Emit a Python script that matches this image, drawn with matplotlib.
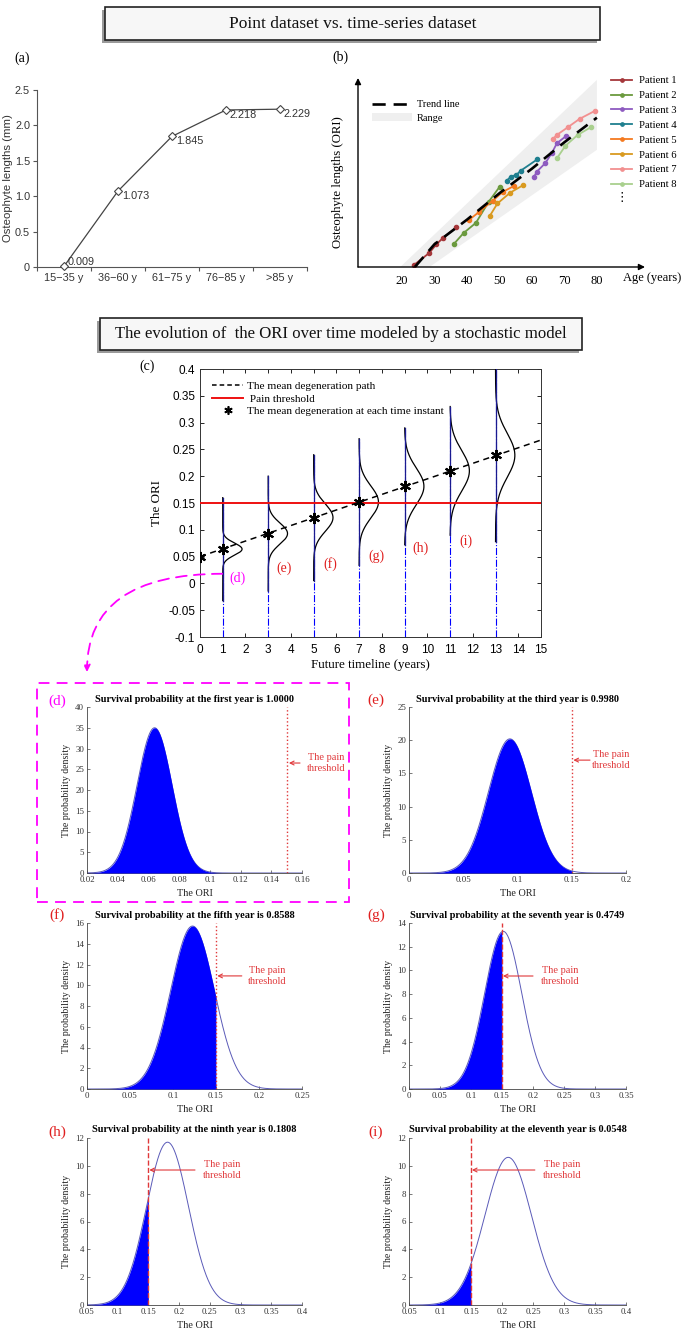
import numpy as np
import matplotlib
matplotlib.use('Agg')
import matplotlib.pyplot as plt
from matplotlib.patches import Rectangle, Patch
from matplotlib.lines import Line2D
from matplotlib.ticker import FuncFormatter

W, H = 685, 1334
SERIF = ['Liberation Serif', 'DejaVu Serif']
SANS = ['Liberation Sans', 'DejaVu Sans']

# ---------------- data ----------------
# (a) point dataset
age_groups = ['15\u221235 y', '36\u221260 y', '61\u221275 y', '76\u221285 y', '>85 y']
osteo_mm = [0.009, 1.073, 1.845, 2.218, 2.229]

# (b) time-series dataset (ORI in arbitrary units)
trend_age = [24, 30, 40, 50, 60, 70, 80]
trend_ori = [0.0, 0.12, 0.25, 0.39, 0.52, 0.66, 0.79]
range_age = [19.5, 80, 80, 28.5]
range_ori = [0.0, 0.99, 0.62, 0.0]
patient_names = ['Patient 1', 'Patient 2', 'Patient 3', 'Patient 4',
                 'Patient 5', 'Patient 6', 'Patient 7', 'Patient 8']
patient_colors = ['#A5373A', '#6B9A3E', '#8E5BC0', '#1F7F8F',
                  '#F47A20', '#D99A20', '#F29090', '#A9D08E']
patient_age = [
    [23.6, 28.4, 30.6, 32.8, 36.7],
    [35.9, 39.0, 42.8, 46.7, 50.1],
    [60.7, 61.5, 64.1, 66.2, 67.7, 70.6],
    [52.3, 53.5, 55.2, 56.6, 61.7],
    [40.8, 43.8, 47.9, 51.1, 54.4],
    [47.0, 49.4, 53.3, 57.4],
    [66.4, 67.7, 71.1, 74.7, 79.5],
    [67.7, 70.3, 74.1, 78.2],
]
patient_ori = [
    [0.009, 0.074, 0.12, 0.156, 0.209],
    [0.12, 0.18, 0.234, 0.345, 0.425],
    [0.478, 0.504, 0.549, 0.605, 0.655, 0.694],
    [0.457, 0.478, 0.487, 0.51, 0.57],
    [0.251, 0.292, 0.35, 0.398, 0.428],
    [0.269, 0.336, 0.393, 0.434],
    [0.676, 0.699, 0.74, 0.784, 0.827],
    [0.575, 0.641, 0.699, 0.74],
]

# (c) stochastic model
path_t = [0, 15]
path_ori = [0.05, 0.2675]
star_t = [0, 1, 3, 5, 7, 9, 11, 13]
star_ori = [0.05, 0.064, 0.093, 0.1227, 0.1519, 0.1811, 0.210, 0.239]
inst_t = [1, 3, 5, 7, 9, 11, 13]
inst_mean = [0.064, 0.093, 0.1227, 0.1519, 0.1811, 0.210, 0.239]
inst_sd = [0.0114, 0.01975, 0.0254, 0.030, 0.0341, 0.0376, 0.041]
inst_top = [0.16, 0.20, 0.24, 0.27, 0.29, 0.33, 0.40]
threshold = 0.15
inst_labels = ['(d)', '(e)', '(f)', '(g)', '(h)', '(i)']
inst_label_t = [1.67, 3.7, 5.73, 7.74, 9.7, 11.7]
inst_label_y = [0.009, 0.028, 0.037, 0.05, 0.066, 0.079]

# (d)-(i) survival panels
ordinals = ['first', 'third', 'fifth', 'seventh', 'ninth', 'eleventh']
survival = ['1.0000', '0.9980', '0.8588', '0.4749', '0.1808', '0.0548']
panel_xlim = [(0.02, 0.16), (0, 0.2), (0, 0.25), (0, 0.35), (0.05, 0.4), (0.05, 0.4)]
panel_xstep = [0.02, 0.05, 0.05, 0.05, 0.05, 0.05]
panel_ylim = [40, 25, 16, 14, 12, 12]
panel_ystep = [5, 5, 2, 2, 2, 2]

# ---------------- figure ----------------
fig = plt.figure(figsize=(W / 100, H / 100), dpi=100)
fig.patch.set_facecolor('white')


def px_axes(x0, y0, x1, y1):
    return fig.add_axes([x0 / W, 1 - y1 / H, (x1 - x0) / W, (y1 - y0) / H])


def fxy(x, y):
    return x / W, 1 - y / H


def title_box(x0, y0, x1, y1, text, size):
    sh = Rectangle(fxy(x0 - 3, y1 + 3), (x1 - x0) / W, (y1 - y0) / H,
                   transform=fig.transFigure, facecolor='#9a9a9a', edgecolor='none', zorder=1)
    fig.patches.append(sh)
    bx = Rectangle(fxy(x0, y1), (x1 - x0) / W, (y1 - y0) / H,
                   transform=fig.transFigure, facecolor='#f7f7f7', edgecolor='#222222',
                   lw=1.2, zorder=2)
    fig.patches.append(bx)
    fig.text(*fxy((x0 + x1) / 2, (y0 + y1) / 2), text, ha='center', va='center',
             family=SERIF, fontsize=size, zorder=3, color='#111111')


title_box(105, 7, 600, 40, 'Point dataset vs. time-series dataset', 12.5)
title_box(100, 318, 582, 350, 'The evolution of  the ORI over time modeled by a stochastic model', 12.1)

# ---------------- (a) ----------------
axa = px_axes(37, 90, 307, 267)
xa = np.arange(len(age_groups)) + 0.5
axa.plot(xa, osteo_mm, color='#444444', lw=0.9, marker='D', ms=3.8,
         mfc='white', mec='#444444', mew=0.8, clip_on=False, zorder=3)
for x, v in zip(xa, osteo_mm):
    dy = 0.06 if v < 0.1 else -0.07
    axa.text(x + 0.07, v + dy, f'{v:.3f}', fontsize=7.8, family=SANS, color='#333333',
             ha='left', va='center')
axa.set_xlim(0, 5)
axa.set_ylim(0, 2.5)
axa.set_xticks(np.arange(6))
axa.set_xticklabels([])
axa.set_xticks(xa, minor=True)
axa.set_xticklabels(age_groups, minor=True)
axa.tick_params(axis='x', which='minor', length=0, labelsize=7.8, labelcolor='#333333', pad=4.5)
axa.tick_params(axis='x', which='major', length=3, color='#555555', direction='out')
axa.set_yticks([0, 0.5, 1.0, 1.5, 2.0, 2.5])
axa.set_yticklabels(['0', '0.5', '1.0', '1.5', '2.0', '2.5'])
axa.tick_params(axis='y', length=3, color='#555555', labelsize=7.8, labelcolor='#333333', pad=2)
for lab in axa.get_xticklabels(minor=True) + axa.get_yticklabels():
    lab.set_family(SANS)
for s in ['top', 'right']:
    axa.spines[s].set_visible(False)
for s in ['left', 'bottom']:
    axa.spines[s].set_color('#555555')
    axa.spines[s].set_linewidth(0.8)
axa.set_ylabel('Osteophyte lengths (mm)', family=SANS, fontsize=8.2, color='#333333')
axa.yaxis.set_label_coords(-0.09, 0.5)
fig.text(*fxy(22, 58), '(a)', family=SERIF, fontsize=10, ha='center', va='center')

# ---------------- (b) ----------------
axb = px_axes(358, 78, 645, 267)
axb.set_xlim(6.5, 94.8)
axb.set_ylim(0, 1)
axb.fill(range_age, range_ori, color='#EFEFEF', lw=0, zorder=1)
for ag, ov, c in zip(patient_age, patient_ori, patient_colors):
    axb.plot(ag, ov, color=c, lw=1.3, marker='o', ms=3, zorder=3)
axb.plot(trend_age, trend_ori, color='black', lw=1.9, ls=(0, (5, 3)), zorder=4)
for s in axb.spines.values():
    s.set_visible(False)
axb.set_xticks([20, 30, 40, 50, 60, 70, 80])
axb.set_yticks([])
axb.tick_params(axis='x', length=0, labelsize=9, pad=6)
for lab in axb.get_xticklabels():
    lab.set_family(SERIF)
axb.annotate('', xy=(1.0, 0), xytext=(0, 0), xycoords='axes fraction',
             arrowprops=dict(arrowstyle='-|>', color='black', lw=1.0, mutation_scale=9,
                             shrinkA=0, shrinkB=0))
axb.annotate('', xy=(0, 1.0), xytext=(0, 0), xycoords='axes fraction',
             arrowprops=dict(arrowstyle='-|>', color='black', lw=1.0, mutation_scale=9,
                             shrinkA=0, shrinkB=0))
axb.set_ylabel('Osteophyte lengths (ORI)', family=SERIF, fontsize=9.2)
axb.yaxis.set_label_coords(-0.05, 0.45)
fig.text(*fxy(623, 278), 'Age (years)', family=SERIF, fontsize=9, ha='left', va='center')
fig.text(*fxy(340, 57), '(b)', family=SERIF, fontsize=10, ha='center', va='center')
axb.legend(handles=[Line2D([], [], color='black', lw=1.9, ls=(0, (5, 3))),
                    Patch(facecolor='#EFEFEF', edgecolor='none')],
           labels=['Trend line', 'Range'], loc='upper left',
           bbox_to_anchor=((372 - 358) / 287, (267 - 100) / 189),
           frameon=False, handlelength=3.8, handletextpad=0.5, labelspacing=0.4,
           borderpad=0, borderaxespad=0, prop={'family': SERIF, 'size': 7.5})
pat_handles = [Line2D([], [], color=c, lw=1.3, marker='o', ms=2.4) for c in patient_colors]
fig.legend(handles=pat_handles, labels=patient_names, loc='upper left',
           bbox_to_anchor=fxy(611, 76), frameon=False, handlelength=2.0,
           handletextpad=0.6, labelspacing=0.5, borderpad=0, borderaxespad=0,
           prop={'family': SERIF, 'size': 7.7})
fig.text(*fxy(622, 197), '\u22ee', family=['DejaVu Sans'], fontsize=9, ha='center', va='center')

# ---------------- (c) ----------------
axc = px_axes(200, 369, 541, 637)
axc.set_xlim(0, 15)
axc.set_ylim(-0.1, 0.4)
for t, m, sd, top in zip(inst_t, inst_mean, inst_sd, inst_top):
    axc.plot([t, t], [-0.1, top], color='#0000FF', lw=0.8, ls='-.', zorder=2)
    yy = np.linspace(m - (top - m), top, 400)
    xx = t + 0.85 * np.exp(-0.5 * ((yy - m) / sd) ** 2)
    axc.plot(xx, yy, color='black', lw=0.9, zorder=3)
    axc.plot([t, t], [m - (top - m), top], color='#1a1a90', lw=0.9, zorder=3.5)
axc.axhline(threshold, color='#EE1111', lw=1.4, zorder=4)
axc.plot(path_t, path_ori, color='black', lw=1.1, ls=(0, (4, 3)), zorder=5)
axc.plot(star_t, star_ori, ls='none', marker=(6, 2, 0), ms=8, mew=1.5, color='black', zorder=6)
for lab, t, y in zip(inst_labels, inst_label_t, inst_label_y):
    axc.text(t, y, lab, color='#FF00FF' if lab == '(d)' else '#E02020', family=SERIF,
             fontsize=10, ha='center', va='center')
axc.set_xticks(np.arange(16))
axc.set_yticks(np.round(np.arange(-0.1, 0.401, 0.05), 2))
axc.yaxis.set_major_formatter(FuncFormatter(lambda v, p: f'{v:g}'))
axc.tick_params(direction='in', top=True, right=True, length=3, labelsize=8.5, width=0.6)
axc.tick_params(axis='x', pad=5)
for lab in axc.get_xticklabels() + axc.get_yticklabels():
    lab.set_family(SANS)
for s in axc.spines.values():
    s.set_linewidth(0.7)
    s.set_color('#333333')
axc.set_ylabel('The ORI', family=SERIF, fontsize=9.4)
axc.yaxis.set_label_coords(-0.108, 0.5)
axc.set_xlabel('Future timeline (years)', family=SERIF, fontsize=9.4)
axc.xaxis.set_label_coords(0.5, -0.083)
axc.legend(handles=[Line2D([], [], color='black', lw=1.1, ls=(0, (3, 2))),
                    Line2D([], [], color='#EE1111', lw=1.4),
                    Line2D([], [], ls='none', marker=(6, 2, 0), ms=6, mew=1.2, color='black')],
           labels=['The mean degeneration path', ' Pain threshold',
                   'The mean degeneration at each time instant'],
           loc='upper left', bbox_to_anchor=(12 / 341, 1 - 12 / 268), frameon=False,
           handlelength=2.8, handletextpad=0.35, labelspacing=0.25, borderpad=0,
           borderaxespad=0, prop={'family': SERIF, 'size': 8.1})
fig.text(*fxy(147, 366), '(c)', family=SERIF, fontsize=10, ha='center', va='center')

# magenta dashed box and arrow from (c) to (d)
fig.patches.append(Rectangle(fxy(37, 902), (349 - 37) / W, (902 - 683) / H,
                             transform=fig.transFigure, fill=False, edgecolor='#FF00FF',
                             lw=1.3, ls=(0, (6, 4))))
axc.annotate('', xy=fxy(87, 672), xycoords='figure fraction',
             xytext=(1, 0.018), textcoords='data',
             arrowprops=dict(arrowstyle='-|>', color='#FF00FF', lw=1.3, ls=(0, (6, 4)),
                             connectionstyle='angle3,angleA=0,angleB=90',
                             shrinkA=0, shrinkB=0, mutation_scale=10),
             annotation_clip=False)

# ---------------- (d)-(i) ----------------
boxes = [(87, 707, 302, 873), (409, 707, 626, 873),
         (87, 923, 302, 1089), (409, 923, 626, 1089),
         (87, 1138, 302, 1305), (409, 1138, 626, 1305)]
arrow_from = [0.1587, 0.1668, 0.180, 0.200, 0.2258, 0.253]
arrow_y = [26.5, 17.0, 10.9, 9.53, 9.7, 9.7]
text_x = [0.176, 0.186, 0.209, 0.2435, 0.27, 0.297]
vstyles = [':', ':', ':', '--', '--', '--']
labels_xy = [(57, 701), (376, 700), (57, 915), (376, 915), (57, 1132), (376, 1132)]
for k in range(6):
    x0, y0, x1, y1 = boxes[k]
    ax = px_axes(x0, y0, x1, y1)
    m, sd = inst_mean[k], inst_sd[k]
    lo, hi = panel_xlim[k]
    xs = np.linspace(lo, hi, 800)
    pdf = np.exp(-0.5 * ((xs - m) / sd) ** 2) / (sd * np.sqrt(2 * np.pi))
    ax.plot(xs, pdf, color='#5A5AB8', lw=0.7, zorder=2)
    sel = xs <= threshold
    ax.fill_between(xs[sel], 0, pdf[sel], color='#0000FF', lw=0, zorder=3)
    ax.plot([threshold, threshold], [0, panel_ylim[k]], color='#E0383A', lw=1.0,
            ls=vstyles[k], zorder=4)
    ax.set_xlim(lo, hi)
    ax.set_ylim(0, panel_ylim[k])
    ax.set_xticks(np.round(np.arange(lo, hi + 1e-9, panel_xstep[k]), 3))
    ax.set_yticks(np.arange(0, panel_ylim[k] + 0.1, panel_ystep[k]))
    ax.xaxis.set_major_formatter(FuncFormatter(lambda v, p: f'{v:g}'))
    ax.tick_params(direction='in', length=2.5, width=0.5, labelsize=6.4, pad=2,
                   color='#444444', labelcolor='#333333')
    for lab in ax.get_xticklabels() + ax.get_yticklabels():
        lab.set_family(SERIF)
    for s in ['top', 'right']:
        ax.spines[s].set_visible(False)
    for s in ['left', 'bottom']:
        ax.spines[s].set_linewidth(0.6)
        ax.spines[s].set_color('#444444')
    ax.set_ylabel('The probability density', family=SERIF, fontsize=7.1, color='#222222')
    ax.yaxis.set_label_coords(-0.074, 0.5)
    ax.set_xlabel('The ORI', family=SERIF, fontsize=7.4, color='#222222')
    ax.xaxis.set_label_coords(0.5, -0.096)
    ax.text(0.5, 1 + 8 / 166, f'Survival probability at the {ordinals[k]} year is {survival[k]}',
            transform=ax.transAxes, ha='center', va='center', family=SERIF,
            fontsize=7.4, fontweight='bold')
    ax.annotate('', xy=(threshold + 0.0015, arrow_y[k]), xytext=(arrow_from[k], arrow_y[k]),
                arrowprops=dict(arrowstyle='->', color='#E0383A', lw=0.8, shrinkA=0, shrinkB=0,
                                mutation_scale=7), annotation_clip=False)
    ax.text(text_x[k], arrow_y[k], 'The pain\nthreshold', color='#E0383A', family=SERIF,
            fontsize=7.5, ha='center', va='center', linespacing=1.2, clip_on=False)
    lx, ly = labels_xy[k]
    fig.text(*fxy(lx, ly), inst_labels[k], color='#FF00FF' if k == 0 else '#E02020',
             family=SERIF, fontsize=11, ha='center', va='center')

fig.savefig('out.png', dpi=100)
